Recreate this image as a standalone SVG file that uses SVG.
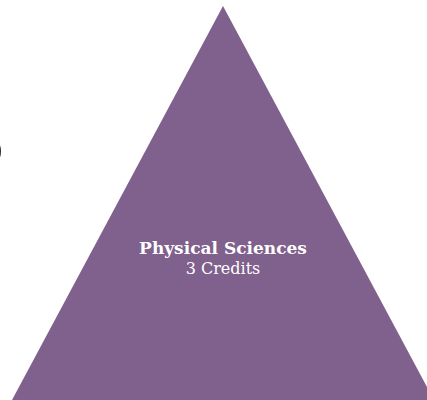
<svg xmlns="http://www.w3.org/2000/svg" width="427" height="400" viewBox="0 0 427 400">
<style>
.tri{fill:#80608C;}
.lbl{font-family:"DejaVu Serif","Liberation Serif",serif;fill:#ffffff;text-anchor:middle;}
.b{font-weight:bold;font-size:17px;}
.r{font-size:16px;}
.frag{font-family:"Liberation Serif",serif;font-size:72px;fill:#000;}
</style>
<rect width="427" height="400" fill="#ffffff"/>
<text class="frag" x="-33" y="166">6</text>
<g id="physical-sciences">
<polygon class="tri" points="223,6 12,400 434,400"/>
<text class="lbl b" x="223" y="254">Physical Sciences</text>
<text class="lbl r" x="223" y="274">3 Credits</text>
</g>
</svg>
